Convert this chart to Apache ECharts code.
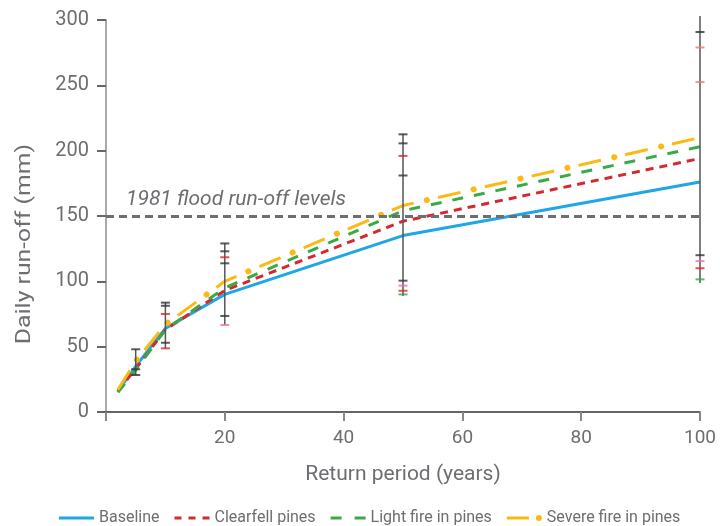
<!DOCTYPE html>
<html><head><meta charset="utf-8">
<script src="https://cdn.jsdelivr.net/npm/echarts@6/dist/echarts.min.js"></script>
<style>html,body{margin:0;padding:0;background:#fff}#c{width:720px;height:526px}</style>
</head><body><div id="c"></div>
<script>
const FONT = 'Roboto';
const periods = [2, 5, 10, 20, 50, 100];
const baseline = [16, 35, 64, 90, 135, 176];
const clearfell = [16, 33, 63, 93, 146, 194];
const lightFire = [15, 32, 63, 95, 154, 203];
const severeFire = [17, 39, 67, 100, 158, 210];
const floodLevel = 150;
const floodLabel = '1981 flood run-off levels';

// error bars: [period, low, high]
const whiskers = [[5, 28.3, 48], [10, 48.7, 83.7], [20, 66.6, 129], [50, 88.8, 212.5], [100, 98.7, 303]];
const capsBlack = [[5, 48], [5, 32.7], [5, 28.3], [10, 83.7], [10, 81.3], [10, 53], [20, 129], [20, 123], [20, 113.8], [20, 73.5], [50, 212.5], [50, 205.6], [50, 181], [50, 100.5], [100, 290.8], [100, 120]];
const capsRed = [[10, 75], [10, 48.7], [20, 118.4], [50, 196], [50, 92.8], [100, 110]];
const capsLightRed = [[20, 66.6], [100, 279], [100, 252.5]];
const capsPink = [[50, 96.7], [100, 115.5]];
const capsGreen = [[50, 90], [100, 101.5]];

const names = ['Baseline', 'Clearfell pines', 'Light fire in pines', 'Severe fire in pines'];

const zip = arr => periods.map((p, i) => [p, arr[i]]);
const capSeries = (data, color) => ({
  type: 'scatter', data, symbol: 'rect', symbolSize: [9, 2], z: 6, silent: true,
  itemStyle: { color }, clip: false
});
const SPECK = 'M0,0h0.01v0.01h-0.01zM34.99,6h0.01v-0.01h-0.01z';
const icons = [
  'path://' + SPECK + 'M0,1.5h35v3h-35z',
  'path://' + SPECK + 'M0,1.5h7v3h-7zM14,1.5h7v3h-7zM28,1.5h7v3h-7z',
  'path://' + SPECK + 'M0,1.5h11v3h-11zM24,1.5h11v3h-11z',
  'path://' + SPECK + 'M0,1.5h22v3h-22zM29,3a3,3 0 1,0 6,0a3,3 0 1,0 -6,0z'
];

const chart = echarts.init(document.getElementById('c'), null, { renderer: 'canvas' });
chart.setOption({
  animation: false,
  textStyle: { fontFamily: FONT },
  grid: { left: 106, right: 20, top: 20, bottom: 114 },
  legend: {
    top: 505, left: 54, itemWidth: 35, itemHeight: 6, itemGap: 15,
    padding: [5, 5, 5, 5],
    symbolKeepAspect: false,
    itemStyle: { borderWidth: 0 },
    data: names.map((n, i) => ({ name: n, icon: icons[i] })),
    textStyle: { fontFamily: FONT, fontSize: 16, color: '#6d6e71' }
  },
  xAxis: {
    type: 'value', min: 0, max: 100, interval: 20,
    name: 'Return period (years)', nameLocation: 'middle', nameGap: 52,
    nameTextStyle: { fontFamily: FONT, fontSize: 21, color: '#6d6e71' },
    axisLine: { show: true, onZero: false, lineStyle: { color: '#333', width: 1.5 } },
    axisTick: { show: true, length: 9, lineStyle: { color: '#888', width: 2 } },
    axisLabel: { fontSize: 19, color: '#6d6e71', margin: 17, formatter: v => v === 0 ? '' : String(v) },
    splitLine: { show: false }
  },
  yAxis: {
    type: 'value', min: 0, max: 300, interval: 50,
    axisLine: { show: true, lineStyle: { color: '#aaa', width: 2 } },
    axisTick: { show: true, length: 9, lineStyle: { color: '#666', width: 2 } },
    axisLabel: { fontSize: 20, color: '#6d6e71', margin: 17 },
    splitLine: { show: false }
  },
  graphic: [{
    type: 'text', x: 25, y: 244, rotation: Math.PI / 2, scaleX: 1.18,
    style: { text: 'Daily run-off (mm)', font: '21px ' + FONT, fill: '#6d6e71', align: 'center', verticalAlign: 'middle' }
  }],
  series: [
    {
      name: names[0], type: 'line', data: zip(baseline), symbol: 'none', z: 3,
      lineStyle: { color: '#1ea6e6', width: 3 }, itemStyle: { color: '#1ea6e6' },
      markLine: {
        silent: true, symbol: 'none', z: 5,
        lineStyle: { color: '#6d6e71', type: [8, 5], width: 3 },
        label: { show: true, position: 'insideStartTop', formatter: floodLabel, fontFamily: FONT, fontStyle: 'italic', fontSize: 21, color: '#6d6e71', distance: [20, 6] },
        data: [{ yAxis: floodLevel }]
      }
    },
    {
      name: names[1], type: 'line', data: zip(clearfell), symbol: 'none', z: 3,
      lineStyle: { color: '#d7282f', width: 3, type: [8, 6] }, itemStyle: { color: '#d7282f' }
    },
    {
      name: names[2], type: 'line', data: zip(lightFire), symbol: 'none', z: 3,
      lineStyle: { color: '#3aaa48', width: 3, type: [11, 11] }, itemStyle: { color: '#3aaa48' }
    },
    {
      name: names[3], type: 'line', data: zip(severeFire), symbol: 'none', z: 3,
      lineStyle: { color: '#fdb913', width: 3, type: [23, 25] }, itemStyle: { color: '#fdb913' }
    },
    {
      type: 'line', data: zip(severeFire), symbol: 'none', z: 3, silent: true,
      lineStyle: { color: '#fdb913', width: 6, type: [0.1, 48], dashOffset: 12.5, cap: 'round' }
    },
    {
      type: 'custom', data: whiskers, z: 5, silent: true, clip: false,
      encode: { x: 0, y: [1, 2] },
      renderItem: (params, api) => {
        const x = api.value(0), lo = api.value(1), hi = api.value(2);
        const a = api.coord([x, lo]), b = api.coord([x, hi]);
        return { type: 'line', shape: { x1: a[0], y1: a[1], x2: b[0], y2: b[1] }, style: { stroke: '#555', lineWidth: 1.5 } };
      }
    },
    capSeries(capsBlack, '#333'),
    capSeries(capsRed, '#d7282f'),
    capSeries(capsLightRed, '#e8797d'),
    capSeries(capsPink, '#e86fb0'),
    capSeries(capsGreen, '#3aaa48')
  ]
});
</script></body></html>
